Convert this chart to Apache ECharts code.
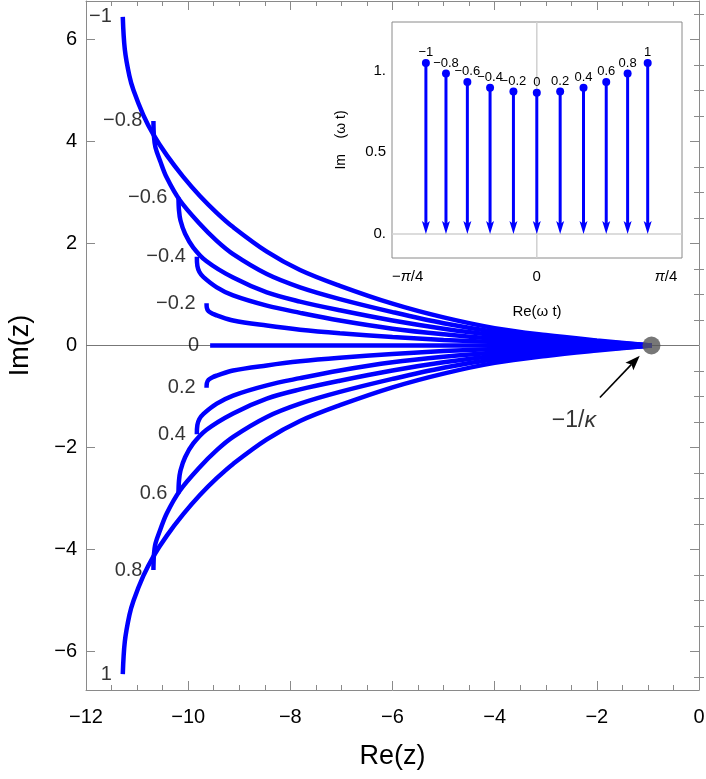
<!DOCTYPE html>
<html>
<head>
<meta charset="utf-8">
<script src="https://cdn.jsdelivr.net/npm/echarts@6/dist/echarts.min.js"></script>
<style>
  html, body { margin: 0; padding: 0; background: #fff; }
  #chart { width: 706px; height: 779px; }
</style>
</head>
<body>
<div id="chart"></div>
<script>
// curve labels (value of the parameter at each curve start)
const curveLabels = ['−1', '−0.8', '−0.6', '−0.4', '−0.2', '0', '0.2', '0.4', '0.6', '0.8', '1']

// points, [Re(z), Im(z)]
const cM10 = [[-11.28, 6.44], [-11.24, 5.80], [-11.15, 5.28], [-11.07, 5.00], [-10.88, 4.52], [-10.68, 4.13], [-10.42, 3.73], [-10.10, 3.31], [-9.77, 2.93], [-9.44, 2.60], [-9.12, 2.32], [-8.46, 1.84], [-7.81, 1.48], [-7.03, 1.17], [-6.0, 0.82], [-5.0, 0.55], [-4.0, 0.34], [-3.0, 0.205], [-2.0, 0.10], [-0.93, 0]]
const cM08 = [[-10.68, 4.40], [-10.67, 4.10], [-10.64, 3.88], [-10.55, 3.62], [-10.42, 3.29], [-10.16, 2.84], [-9.77, 2.38], [-9.44, 2.05], [-9.12, 1.79], [-8.46, 1.40], [-7.81, 1.14], [-7.03, 0.91], [-6.0, 0.655], [-5.0, 0.435], [-4.0, 0.27], [-3.0, 0.16], [-2.0, 0.08], [-0.93, 0]]
const cM06 = [[-10.19, 2.90], [-10.18, 2.65], [-10.15, 2.45], [-10.06, 2.19], [-9.90, 1.92], [-9.64, 1.65], [-9.12, 1.33], [-8.46, 1.04], [-7.81, 0.86], [-7.03, 0.69], [-6.0, 0.49], [-5.0, 0.33], [-4.0, 0.205], [-3.0, 0.123], [-2.0, 0.06], [-0.93, 0]]
const cM04 = [[-9.83, 1.74], [-9.82, 1.56], [-9.78, 1.44], [-9.70, 1.34], [-9.44, 1.14], [-9.12, 0.98], [-8.46, 0.78], [-7.81, 0.64], [-7.03, 0.49], [-6.0, 0.33], [-5.0, 0.22], [-4.0, 0.136], [-3.0, 0.082], [-2.0, 0.04], [-0.93, 0]]
const cM02 = [[-9.64, 0.83], [-9.635, 0.74], [-9.60, 0.67], [-9.52, 0.62], [-9.44, 0.59], [-9.12, 0.49], [-8.46, 0.39], [-7.81, 0.31], [-7.03, 0.24], [-6.0, 0.165], [-5.0, 0.11], [-4.0, 0.068], [-3.0, 0.041], [-2.0, 0.02], [-0.93, 0]]
const c00 = [[-9.57, 0], [-0.93, 0]]
const cP02 = [[-9.64, -0.83], [-9.635, -0.74], [-9.60, -0.67], [-9.52, -0.62], [-9.44, -0.59], [-9.12, -0.49], [-8.46, -0.39], [-7.81, -0.31], [-7.03, -0.24], [-6.0, -0.165], [-5.0, -0.11], [-4.0, -0.068], [-3.0, -0.041], [-2.0, -0.02], [-0.93, 0]]
const cP04 = [[-9.83, -1.74], [-9.82, -1.56], [-9.78, -1.44], [-9.70, -1.34], [-9.44, -1.14], [-9.12, -0.98], [-8.46, -0.78], [-7.81, -0.64], [-7.03, -0.49], [-6.0, -0.33], [-5.0, -0.22], [-4.0, -0.136], [-3.0, -0.082], [-2.0, -0.04], [-0.93, 0]]
const cP06 = [[-10.19, -2.90], [-10.18, -2.65], [-10.15, -2.45], [-10.06, -2.19], [-9.90, -1.92], [-9.64, -1.65], [-9.12, -1.33], [-8.46, -1.04], [-7.81, -0.86], [-7.03, -0.69], [-6.0, -0.49], [-5.0, -0.33], [-4.0, -0.205], [-3.0, -0.123], [-2.0, -0.06], [-0.93, 0]]
const cP08 = [[-10.68, -4.40], [-10.67, -4.10], [-10.64, -3.88], [-10.55, -3.62], [-10.42, -3.29], [-10.16, -2.84], [-9.77, -2.38], [-9.44, -2.05], [-9.12, -1.79], [-8.46, -1.40], [-7.81, -1.14], [-7.03, -0.91], [-6.0, -0.655], [-5.0, -0.435], [-4.0, -0.27], [-3.0, -0.16], [-2.0, -0.08], [-0.93, 0]]
const cP10 = [[-11.28, -6.44], [-11.24, -5.80], [-11.15, -5.28], [-11.07, -5.00], [-10.88, -4.52], [-10.68, -4.13], [-10.42, -3.73], [-10.10, -3.31], [-9.77, -2.93], [-9.44, -2.60], [-9.12, -2.32], [-8.46, -1.84], [-7.81, -1.48], [-7.03, -1.17], [-6.0, -0.82], [-5.0, -0.55], [-4.0, -0.34], [-3.0, -0.205], [-2.0, -0.10], [-0.93, 0]]
const curves = [cM10, cM08, cM06, cM04, cM02, c00, cP02, cP04, cP06, cP08, cP10]

// the point -1/kappa, the arrow pointing at it (tail x, tail y, tip x, tip y) and its text
const kappaPoint = [-0.93, 0]
const kappaArrow = [-1.94, -1.02, -1.16, -0.2]
const kappaTextAt = [-2.45, -1.47]

// main axes
const mainX = { min: -12, max: 0, interval: 2 }
const mainY = { min: -6.75, max: 6.75 }
const mainYTicks = [-6, -4, -2, 0, 2, 4, 6]
const mainYMinor = [-6.5, -5.5, -5, -4.5, -3.5, -3, -2.5, -1.5, -1, -0.5, 0.5, 1, 1.5, 2.5, 3, 3.5, 4.5, 5, 5.5, 6.5]
const zeroLine = [[-12, 0], [0, 0]]

// inset: Re(ωt), Im(ωt) of the start points
const insetRe = [-0.674, -0.552, -0.422, -0.284, -0.142, 0, 0.142, 0.284, 0.422, 0.552, 0.674]
const insetIm = [1.046, 0.982, 0.930, 0.894, 0.872, 0.863, 0.872, 0.894, 0.930, 0.982, 1.046]
const insetX = { min: -0.88, max: 0.8825 }
const insetY = { min: -0.146, max: 1.296 }
const insetXTicks = [-Math.PI / 4, 0, Math.PI / 4]
const insetXTickLabels = ['−{i|π}/4', '0', '{i|π}/4']
const insetYTicks = [0, 0.5, 1]
const insetYTickLabels = ['0.', '0.5', '1.']
const insetHLine = [[insetX.min, 0], [insetX.max, 0]]
const insetVLine = [[0, insetY.min], [0, insetY.max]]

const FONT = '"Liberation Sans", Arial, Helvetica, sans-serif'
const FRAME = '#8a8a8a'
const BLUE = '#0000ff'
const minus = (v) => String(v).replace('-', '−')

const chart = echarts.init(document.getElementById('chart'))

const frameAxis = (extra) => Object.assign({
  type: 'value',
  gridIndex: 0,
  axisLine: { show: true, onZero: false, lineStyle: { color: FRAME, width: 1 } },
  axisTick: { show: true, inside: true, length: 9, lineStyle: { color: FRAME } },
  axisLabel: { show: false },
  splitLine: { show: false }
}, extra)

const curveSeries = curves.map((data) => ({
  type: 'line',
  xAxisIndex: 0,
  yAxisIndex: 0,
  data,
  smooth: 0.35,
  showSymbol: false,
  silent: true,
  z: 3,
  lineStyle: { color: BLUE, width: 4.5, cap: 'butt' }
}))

// arrow with a filled head, drawn from pixel points given by the axes
const arrowShape = (p0, p1, head, half, width, color) => {
  const dx = p1[0] - p0[0]
  const dy = p1[1] - p0[1]
  const len = Math.sqrt(dx * dx + dy * dy)
  const ux = dx / len
  const uy = dy / len
  const bx = p1[0] - ux * head
  const by = p1[1] - uy * head
  const nx = bx + ux * 3
  const ny = by + uy * 3
  return [
    { type: 'line', shape: { x1: p0[0], y1: p0[1], x2: nx, y2: ny }, style: { stroke: color, lineWidth: width } },
    {
      type: 'polygon',
      shape: { points: [[bx - uy * half, by + ux * half], [p1[0], p1[1]], [bx + uy * half, by - ux * half], [nx, ny]] },
      style: { fill: color }
    }
  ]
}

chart.setOption({
  animation: false,
  textStyle: { fontFamily: FONT },
  grid: [
    { left: 86, right: 7, top: 1, bottom: 89, outerBoundsMode: 'none' },
    { left: 392, top: 22, width: 290, height: 236, show: true, backgroundColor: '#fff', borderColor: FRAME, borderWidth: 1, outerBoundsMode: 'none', z: 1 }
  ],
  xAxis: [
    frameAxis({
      position: 'bottom', min: mainX.min, max: mainX.max, interval: mainX.interval,
      minorTick: { show: true, splitNumber: 4, length: 5, lineStyle: { color: FRAME } },
      axisLabel: { show: true, margin: 17, fontSize: 20, color: '#000', formatter: minus },
      name: 'Re(z)', nameLocation: 'middle', nameGap: 53, nameMoveOverlap: false,
      nameTextStyle: { fontSize: 27, color: '#000' }
    }),
    frameAxis({
      position: 'top', min: mainX.min, max: mainX.max, interval: mainX.interval,
      minorTick: { show: true, splitNumber: 4, length: 5, lineStyle: { color: FRAME } }
    }),
    {
      type: 'value', gridIndex: 1, position: 'bottom', min: insetX.min, max: insetX.max,
      axisLine: { show: false },
      axisTick: { show: true, inside: true, length: 5, customValues: insetXTicks, lineStyle: { color: FRAME } },
      axisLabel: {
        show: true, customValues: insetXTicks, margin: 11, fontSize: 15, color: '#000',
        formatter: (v) => insetXTickLabels[insetXTicks.findIndex((t) => Math.abs(t - v) < 1e-6)],
        rich: { i: { fontStyle: 'italic', fontSize: 15, color: '#000' } }
      },
      splitLine: { show: false },
      name: 'Re(ω t)', nameLocation: 'middle', nameGap: 46, nameMoveOverlap: false,
      nameTextStyle: { fontSize: 15, color: '#000' }
    }
  ],
  yAxis: [
    frameAxis({
      position: 'left', min: mainY.min, max: mainY.max,
      axisTick: { show: true, inside: true, length: 9, customValues: mainYTicks, lineStyle: { color: FRAME } },
      axisLabel: { show: true, customValues: mainYTicks, margin: 9, fontSize: 20, color: '#000', formatter: minus },
      name: 'Im(z)', nameLocation: 'middle', nameGap: 52, nameRotate: 90, nameMoveOverlap: false,
      nameTextStyle: { fontSize: 27, color: '#000' }
    }),
    frameAxis({
      position: 'right', min: mainY.min, max: mainY.max,
      axisTick: { show: true, inside: true, length: 9, customValues: mainYTicks, lineStyle: { color: FRAME } }
    }),
    frameAxis({
      position: 'left', min: mainY.min, max: mainY.max, axisLine: { show: false },
      axisTick: { show: true, inside: true, length: 5, customValues: mainYMinor, lineStyle: { color: FRAME } }
    }),
    frameAxis({
      position: 'right', min: mainY.min, max: mainY.max, axisLine: { show: false },
      axisTick: { show: true, inside: true, length: 5, customValues: mainYMinor, lineStyle: { color: FRAME } }
    }),
    {
      type: 'value', gridIndex: 1, position: 'left', min: insetY.min, max: insetY.max,
      axisLine: { show: false },
      axisTick: { show: true, inside: true, length: 5, customValues: insetYTicks, lineStyle: { color: FRAME } },
      axisLabel: {
        show: true, customValues: insetYTicks, margin: 6, fontSize: 15, color: '#000',
        formatter: (v) => insetYTickLabels[insetYTicks.indexOf(v)]
      },
      splitLine: { show: false },
      name: 'Im    (ω t)', nameLocation: 'middle', nameGap: 44, nameRotate: 90, nameMoveOverlap: false,
      nameTextStyle: { fontSize: 14, color: '#000' }
    }
  ],
  series: [
    {
      type: 'line', xAxisIndex: 0, yAxisIndex: 0, data: zeroLine, showSymbol: false, silent: true, z: 1,
      lineStyle: { color: '#777', width: 1 }
    },
    ...curveSeries,
    {
      // labels at the curve starts
      type: 'scatter', xAxisIndex: 0, yAxisIndex: 0, symbolSize: 0, silent: true, z: 4,
      data: curves.map((c, i) => ({ value: c[0], label: { formatter: curveLabels[i] } })),
      label: { show: true, position: 'left', distance: 11, fontSize: 20, color: '#000', fontFamily: FONT }
    },
    {
      type: 'scatter', xAxisIndex: 0, yAxisIndex: 0, data: [kappaPoint], symbolSize: 18, silent: true, z: 5,
      itemStyle: { color: '#555' }
    },
    {
      type: 'custom', xAxisIndex: 0, yAxisIndex: 0, data: [kappaArrow], silent: true, z: 6,
      renderItem: (params, api) => {
        const p0 = api.coord([api.value(0), api.value(1)])
        const p1 = api.coord([api.value(2), api.value(3)])
        return { type: 'group', children: arrowShape(p0, p1, 15, 5.5, 1.6, '#000') }
      }
    },
    {
      type: 'scatter', xAxisIndex: 0, yAxisIndex: 0, data: [kappaTextAt], symbolSize: 0, silent: true, z: 5,
      label: {
        show: true, position: 'inside', formatter: '−1/{k|κ}', fontSize: 23, color: '#000', fontFamily: FONT,
        rich: { k: { fontStyle: 'italic', fontSize: 23, color: '#000', fontFamily: FONT } }
      }
    },
    // inset
    {
      type: 'line', xAxisIndex: 2, yAxisIndex: 4, data: insetHLine, showSymbol: false, silent: true, z: 2,
      lineStyle: { color: '#d0d0d0', width: 1.5 }
    },
    {
      type: 'line', xAxisIndex: 2, yAxisIndex: 4, data: insetVLine, showSymbol: false, silent: true, z: 2,
      lineStyle: { color: '#d0d0d0', width: 1.5 }
    },
    {
      type: 'custom', xAxisIndex: 2, yAxisIndex: 4, silent: true, z: 3,
      data: insetRe.map((r, i) => [r, insetIm[i]]),
      renderItem: (params, api) => {
        const top = api.coord([api.value(0), api.value(1)])
        const base = api.coord([api.value(0), 0])
        return {
          type: 'group',
          children: [
            ...arrowShape(top, base, 13, 4, 3, BLUE),
            { type: 'circle', shape: { cx: top[0], cy: top[1], r: 4 }, style: { fill: BLUE } },
            {
              type: 'text',
              style: {
                text: curveLabels[params.dataIndex], x: top[0], y: top[1] - 10, align: 'center', verticalAlign: 'middle',
                fontSize: 13, fontFamily: FONT, fill: '#000'
              }
            }
          ]
        }
      }
    }
  ]
})

window.addEventListener('resize', () => chart.resize())
</script>
</body>
</html>
